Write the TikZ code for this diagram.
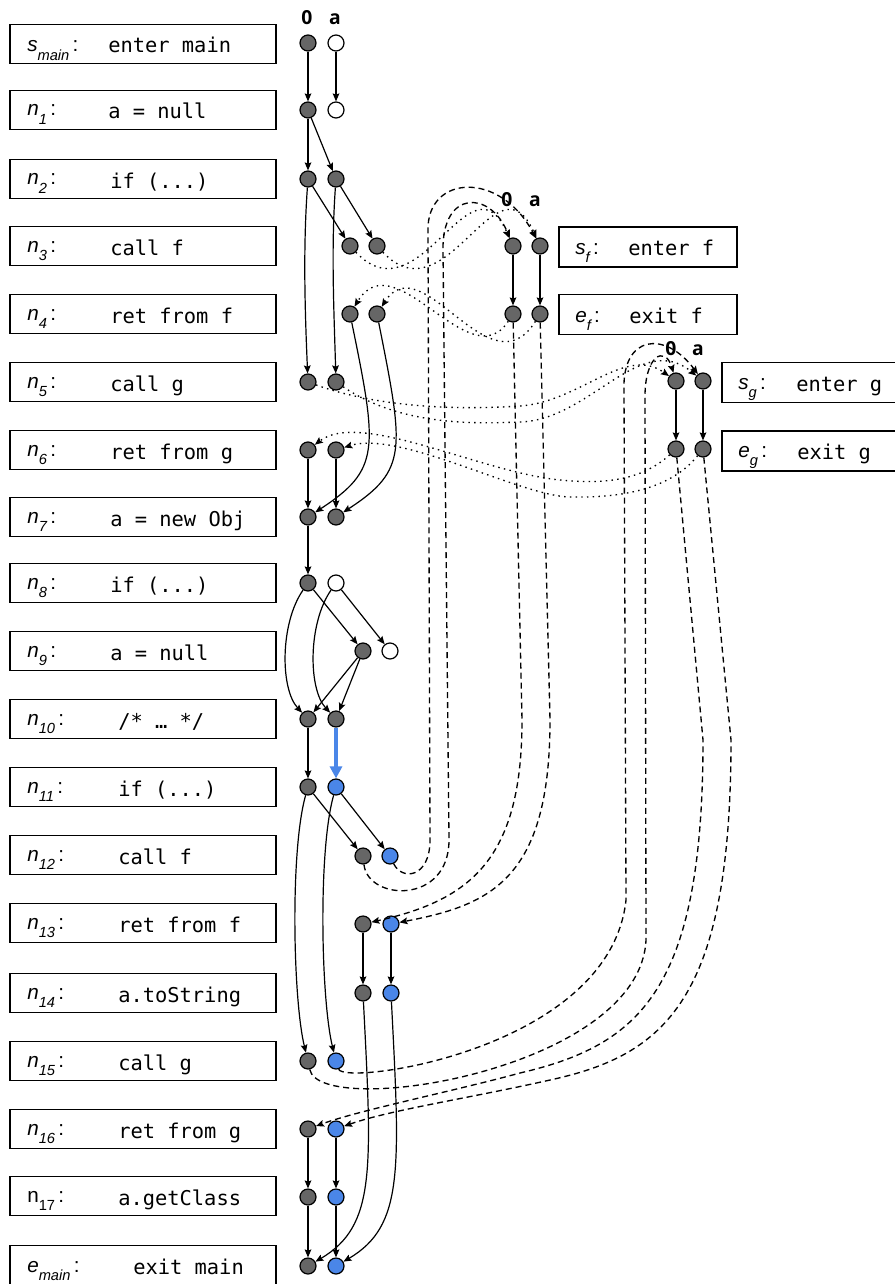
\documentclass[tikz,border=0pt]{standalone}
\usepackage{fontspec}
\setmainfont{Liberation Sans}
\newfontfamily\codefont{DejaVu Sans Mono}
\newfontfamily\hdrfont{Open Sans}
\usetikzlibrary{arrows.meta}
\definecolor{ngray}{HTML}{666666}
\definecolor{nblue}{HTML}{4A86E8}
\newcommand\subs[1]{\raisebox{-6.5pt}{\fontsize{11}{11}\selectfont #1}}
\newcommand\colonx{\hspace{2.5pt}\upshape:}
\tikzset{
  vtx/.style={circle, draw=black, line width=0.9pt, minimum size=12pt, inner sep=0pt},
  gv/.style={vtx, fill=ngray},
  wv/.style={vtx, fill=white},
  bv/.style={vtx, fill=nblue},
  stmt/.style={draw, line width=0.9pt, minimum width=199.5pt, minimum height=29.5pt, inner sep=0pt},
  lbl/.style={anchor=base west, inner sep=0pt, font=\fontsize{15.5}{15}\selectfont\itshape},
  ulbl/.style={anchor=base west, inner sep=0pt, font=\fontsize{15.5}{15}\selectfont},
  code/.style={anchor=base west, inner sep=0pt, font=\codefont\fontsize{15.3}{16}\selectfont},
  hdr/.style={anchor=base, inner sep=0pt, font=\hdrfont\bfseries\fontsize{14.5}{14}\selectfont},
  tip/.style={-{Stealth[length=6pt,width=5pt,inset=1pt]}},
  flow/.style={line width=0.9pt, tip},
  callret/.style={line width=1pt, dash pattern=on 1.1pt off 3.2pt, tip},
  summ/.style={line width=1pt, dash pattern=on 4.5pt off 3pt, tip},
  seed/.style={line width=2.3pt, draw=nblue, -{Triangle[length=9pt,width=9pt]}}
}
\begin{document}
\begin{tikzpicture}[x=0.75pt,y=-0.75pt]
\useasboundingbox (0,0) rectangle (894,1284);

% statement boxes (main)
\foreach \i/\yy in {0/44,1/110,2/179,3/246,4/314,5/382,6/450,7/517,8/583,9/651,10/719,11/787,12/855,13/923,14/993,15/1061,16/1129,17/1196,18/1265}
  \node[stmt] (box\i) at (143,\yy) {};

% labels
\node[lbl] (l0)  at (27,52)   {s\subs{main}\colonx};
\node[lbl] (l1)  at (27,116)  {n\subs{1}\colonx};
\node[lbl] (l2)  at (27,185)  {n\subs{2}\colonx};
\node[lbl] (l3)  at (27,252)  {n\subs{3}\colonx};
\node[lbl] (l4)  at (27,320)  {n\subs{4}\colonx};
\node[lbl] (l5)  at (27,388)  {n\subs{5}\colonx};
\node[lbl] (l6)  at (27,456)  {n\subs{6}\colonx};
\node[lbl] (l7)  at (27,523)  {n\subs{7}\colonx};
\node[lbl] (l8)  at (27,589)  {n\subs{8}\colonx};
\node[lbl] (l9)  at (27,657)  {n\subs{9}\colonx};
\node[lbl] (l10) at (27,725)  {n\subs{10}\colonx};
\node[lbl] (l11) at (27,793)  {n\subs{11}\colonx};
\node[lbl] (l12) at (27,861)  {n\subs{12}\colonx};
\node[lbl] (l13) at (27,929)  {n\subs{13}\colonx};
\node[lbl] (l14) at (27,999)  {n\subs{14}\colonx};
\node[lbl] (l15) at (27,1067) {n\subs{15}\colonx};
\node[lbl] (l16) at (27,1135) {n\subs{16}\colonx};
\node[ulbl] (l17) at (27,1202) {n\subs{17}\colonx};
\node[lbl] (l18) at (27,1272) {e\subs{main}\colonx};

% code
\node[code] (c0)  at (108,53)   {enter main};
\node[code] (c1)  at (108,119)  {a = null};
\node[code] (c2)  at (110,188)  {if (...)};
\node[code] (c3)  at (110,255)  {call f};
\node[code] (c4)  at (110,323)  {ret from f};
\node[code] (c5)  at (110,391)  {call g};
\node[code] (c6)  at (110,459)  {ret from g};
\node[code] (c7)  at (110,526)  {a = new Obj};
\node[code] (c8)  at (110,592)  {if (...)};
\node[code] (c9)  at (110,660)  {a = null};
\node[code] (c10) at (118,728)  {/* … */};
\node[code] (c11) at (118,796)  {if (...)};
\node[code] (c12) at (118,864)  {call f};
\node[code] (c13) at (118,932)  {ret from f};
\node[code] (c14) at (118,1002) {a.toString};
\node[code] (c15) at (118,1070) {call g};
\node[code] (c16) at (118,1138) {ret from g};
\node[code] (c17) at (118,1205) {a.getClass};
\node[code] (c18) at (133,1274) {exit main};

% callee boxes
\node[draw, line width=0.9pt, minimum width=133.5pt, minimum height=30pt, inner sep=0pt] (bsf) at (648,247) {};
\node[draw, line width=0.9pt, minimum width=133.5pt, minimum height=29.5pt, inner sep=0pt] (bef) at (648,314.5) {};
\node[draw, line width=0.9pt, minimum width=133.5pt, minimum height=29.5pt, inner sep=0pt] (bsg) at (811,382.5) {};
\node[draw, line width=0.9pt, minimum width=133.5pt, minimum height=30pt, inner sep=0pt] (beg) at (811,451) {};
\node[lbl]  (lsf) at (575,254) {s\subs{f}\colonx};
\node[code] (csf) at (628,255) {enter f};
\node[lbl]  (lef) at (575,322) {e\subs{f}\colonx};
\node[code] (cef) at (629,323) {exit f};
\node[lbl]  (lsg) at (738,389) {s\subs{g}\colonx};
\node[code] (csg) at (796,391) {enter g};
\node[lbl]  (leg) at (738,457) {e\subs{g}\colonx};
\node[code] (ceg) at (797,459) {exit g};

% headers
\node[hdr] (h0)  at (307,25)  {0};
\node[hdr] (ha)  at (335,25)  {a};
\node[hdr] (hf0) at (507,206) {0};
\node[hdr] (hfa) at (535,206) {a};
\node[hdr] (hg0) at (671,355) {0};
\node[hdr] (hga) at (698,355) {a};

% exploded supergraph nodes
\node[gv] (r0z) at (308,43) {};   \node[wv] (r0a) at (336,43) {};
\node[gv] (r1z) at (308,110) {};  \node[wv] (r1a) at (336,110) {};
\node[gv] (r2z) at (308,179) {};  \node[gv] (r2a) at (336,179) {};
\node[gv] (r3z) at (350,246) {};  \node[gv] (r3a) at (377,246) {};
\node[gv] (r4z) at (350,314) {};  \node[gv] (r4a) at (377,314) {};
\node[gv] (r5z) at (308,382) {};  \node[gv] (r5a) at (336,382) {};
\node[gv] (r6z) at (308,450) {};  \node[gv] (r6a) at (336,450) {};
\node[gv] (r7z) at (308,517) {};  \node[gv] (r7a) at (336,517) {};
\node[gv] (r8z) at (308,583) {};  \node[wv] (r8a) at (336,583) {};
\node[gv] (r9z) at (363,651) {};  \node[wv] (r9a) at (390,651) {};
\node[gv] (r10z) at (308,719) {}; \node[gv] (r10a) at (336,719) {};
\node[gv] (r11z) at (308,787) {}; \node[bv] (r11a) at (336,787) {};
\node[gv] (r12z) at (363,856) {}; \node[bv] (r12a) at (390,856) {};
\node[gv] (r13z) at (363,924) {}; \node[bv] (r13a) at (391,924) {};
\node[gv] (r14z) at (363,993) {}; \node[bv] (r14a) at (391,993) {};
\node[gv] (r15z) at (308,1061) {}; \node[bv] (r15a) at (336,1061) {};
\node[gv] (r16z) at (308,1129) {}; \node[bv] (r16a) at (336,1129) {};
\node[gv] (r17z) at (308,1197) {}; \node[bv] (r17a) at (336,1197) {};
\node[gv] (r18z) at (308,1266) {}; \node[bv] (r18a) at (336,1266) {};
\node[gv] (fsz) at (513,246) {}; \node[gv] (fsa) at (540,246) {};
\node[gv] (fez) at (513,314) {}; \node[gv] (fea) at (540,314) {};
\node[gv] (gsz) at (676,381) {}; \node[gv] (gsa) at (703,381) {};
\node[gv] (gez) at (676,449) {}; \node[gv] (gea) at (703,449) {};

% intraprocedural edges
\draw[flow] (r0z) -- (r1z);
\draw[flow] (r0a) -- (r1a);
\draw[flow] (r1z) -- (r2z);
\draw[flow] (r1z) -- (r2a);
\draw[flow] (r2z) -- (r3z);
\draw[flow] (r2a) -- (r3a);
\draw[flow] (r2z) .. controls +(-5,70) and +(-3,-70) .. (r5z);
\draw[flow] (r2a) .. controls +(-5,70) and +(-2,-70) .. (r5a);
\draw[flow] (r4z) .. controls +(28,136) and +(72,-47) .. (r7z);
\draw[flow] (r4a) .. controls +(27,136) and +(72,-47) .. (r7a);
\draw[flow] (r6z) -- (r7z);
\draw[flow] (r6a) -- (r7a);
\draw[flow] (r7z) -- (r8z);
\draw[flow] (r8z) -- (r9z);
\draw[flow] (r8a) -- (r9a);
\draw[flow] (r8z) .. controls +(-28,40) and +(-28,-30) .. (r10z);
\draw[flow] (r8a) .. controls +(-28,40) and +(-28,-30) .. (r10a);
\draw[flow] (r9z) -- (r10z);
\draw[flow] (r9z) -- (r10a);
\draw[flow] (r10z) -- (r11z);
\draw[seed] (r10a) -- (r11a);
\draw[flow] (r11z) -- (r12z);
\draw[flow] (r11a) -- (r12a);
\draw[flow] (r11z) .. controls +(-18,63) and +(-15,-61) .. (r15z);
\draw[flow] (r11a) .. controls +(-18,63) and +(-15,-61) .. (r15a);
\draw[flow] (r13z) -- (r14z);
\draw[flow] (r13a) -- (r14a);
\draw[flow] (r14z) .. controls +(9,177) and +(68,-40) .. (r18z);
\draw[flow] (r14a) .. controls +(9,177) and +(68,-40) .. (r18a);
\draw[flow] (r16z) -- (r17z);
\draw[flow] (r16a) -- (r17a);
\draw[flow] (r17z) -- (r18z);
\draw[flow] (r17a) -- (r18a);
\draw[flow] (fsz) -- (fez);
\draw[flow] (fsa) -- (fea);
\draw[flow] (gsz) -- (gez);
\draw[flow] (gsa) -- (gea);

% call and return edges (dotted)
\draw[callret] (r3z) .. controls (420,320) and (470,150) .. (fsz);
\draw[callret] (r3a) .. controls (447,320) and (497,150) .. (fsa);
\draw[callret] (fez) .. controls +(-43,66) and +(45,-74) .. (r4z);
\draw[callret] (fea) .. controls +(-50,80) and +(45,-70) .. (r4a);
\draw[callret] (r5z) .. controls (380,408) and (460,410) .. (520,406) .. controls (580,402) and (625,345) .. (gsz);
\draw[callret] (r5a) .. controls (400,425) and (470,424) .. (520,422) .. controls (590,420) and (640,330) .. (gsa);
\draw[callret] (gez) .. controls (640,482) and (600,484) .. (560,480) .. controls (480,472) and (360,410) .. (r6z);
\draw[callret] (gea) .. controls (670,490) and (620,498) .. (570,497) .. controls (520,496) and (400,430) .. (r6a);

% summary-related edges (dashed)
\draw[summ] (r12z) .. controls +(5,45) and (449,905) .. (449,840) -- (443,250) .. controls (442,190) and (490,190) .. (fsz);
\draw[summ] (r12a) .. controls +(12,25) and (430,878) .. (430,840) -- (428,230) .. controls (427,175) and (500,170) .. (fsa);
\draw[summ] (fez) -- (522,720) .. controls (522,860) and (470,900) .. (r13z);
\draw[summ] (fea) -- (550,720) .. controls (550,880) and (490,905) .. (r13a);
\draw[summ] (r15z) .. controls (320,1120) and (640,1070) .. (646,940) -- (645,400) .. controls (644,355) and (665,345) .. (gsz);
\draw[summ] (r15a) .. controls (344,1086) and (610,1050) .. (626,900) -- (624,390) .. controls (622,335) and (665,330) .. (gsa);
\draw[summ] (gez) -- (703,740) .. controls (703,990) and (640,1045) .. (520,1073) .. controls (450,1092) and (360,1110) .. (r16z);
\draw[summ] (gea) -- (731,740) .. controls (731,1000) and (665,1055) .. (550,1080) .. controls (470,1098) and (390,1110) .. (r16a);
\end{tikzpicture}
\end{document}
